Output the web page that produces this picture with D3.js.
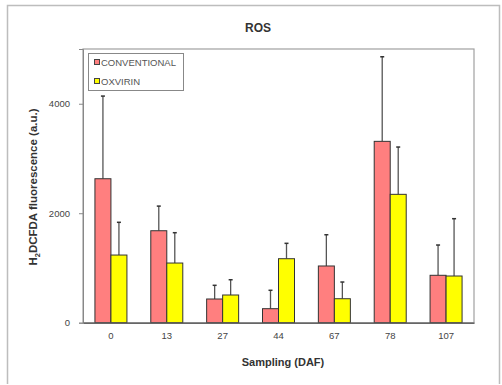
<!DOCTYPE html>
<html><head><meta charset="utf-8">
<script src="https://cdn.jsdelivr.net/npm/d3@7"></script>
<style>body{margin:0;background:#fff}svg{display:block;font-family:"Liberation Sans",Arial,sans-serif}</style>
</head><body><svg id="c" width="502" height="385"></svg>
<script>
const categories = ["0","13","27","44","67","78","107"];
const seriesNames = ["CONVENTIONAL","OXVIRIN"];
const conventional = [2630,1680,433,256,1036,3313,866];
const conventionalErr = [1510,450,250,336,571,1545,553];
const oxvirin = [1236,1090,506,1169,438,2345,853];
const oxvirinErr = [598,554,279,281,305,864,1047];
const yTicks = [0,2000,4000];
const colors = ["#FF7F7F","#FFFF00"];

const svg = d3.select("#c");
const m = {l:83, t:49, r:474, b:322.7};
// outer frame
svg.append("path").attr("d","M7.5,384 V5.5 H499.5 V384").attr("fill","none").attr("stroke","#bdbdbd").attr("stroke-width",1.5);

const x = d3.scaleBand().domain(categories).range([m.l,m.r]).padding(0);
const y = d3.scaleLinear().domain([0,5000]).range([m.b,m.t]);
const bw = 16;

// plot border
svg.append("rect").attr("x",m.l).attr("y",m.t).attr("width",m.r-m.l).attr("height",m.b-m.t)
  .attr("fill","none").attr("stroke","#a0a0a0").attr("stroke-width",1.2);

const series = [
  {vals:conventional, err:conventionalErr, off:-bw, color:colors[0]},
  {vals:oxvirin, err:oxvirinErr, off:0, color:colors[1]}
];
series.forEach(s=>{
  const g = svg.append("g");
  categories.forEach((c,i)=>{
    const cx = x(c)+x.bandwidth()/2 + s.off;
    const top = y(s.vals[i]+s.err[i]);
    g.append("line").attr("x1",cx+bw/2).attr("x2",cx+bw/2).attr("y1",y(s.vals[i])).attr("y2",top)
      .attr("stroke","#555").attr("stroke-width",1.3);
    g.append("line").attr("x1",cx+bw/2-2).attr("x2",cx+bw/2+2).attr("y1",top).attr("y2",top)
      .attr("stroke","#333").attr("stroke-width",1.5);
    g.append("rect").attr("x",cx).attr("y",y(s.vals[i])).attr("width",bw).attr("height",y(0)-y(s.vals[i]))
      .attr("fill",s.color).attr("stroke","#333").attr("stroke-width",1);
  });
});

// axes
const ya = svg.append("g").attr("transform",`translate(${m.l},0)`)
  .call(d3.axisLeft(y).tickValues(yTicks).tickSize(4).tickPadding(9).tickFormat(d3.format("d")));
ya.select(".domain").attr("stroke","#888");
ya.selectAll(".tick line").attr("stroke","#888");
ya.selectAll("text").attr("font-size",9.5).attr("fill","#444").attr("font-family","Liberation Sans, Arial");

const xa = svg.append("g").attr("transform",`translate(0,${m.b})`)
  .call(d3.axisBottom(x).tickSize(0).tickPadding(10));
xa.select(".domain").attr("stroke","#666").attr("stroke-width",1.5);
xa.selectAll("text").attr("font-size",9.5).attr("fill","#444").attr("font-family","Liberation Sans, Arial");

// title
svg.append("text").attr("x",258).attr("y",32).attr("text-anchor","middle").attr("font-size",12)
  .attr("font-weight","bold").attr("fill","#333").text("ROS");
// x label
svg.append("text").attr("x",283).attr("y",366).attr("text-anchor","middle").attr("font-size",11)
  .attr("font-weight","bold").attr("fill","#333").text("Sampling (DAF)");
// y label
const yl = svg.append("text").attr("transform","translate(37,187) rotate(-90)").attr("text-anchor","middle")
  .attr("font-size",11.5).attr("font-weight","bold").attr("fill","#333");
yl.append("tspan").text("H");
yl.append("tspan").attr("font-size",7.5).attr("dy",3).text("2");
yl.append("tspan").attr("dy",-3).text("DCFDA fluorescence  (a.u.)");

// legend
const lg = svg.append("g");
lg.append("rect").attr("x",88.5).attr("y",53.5).attr("width",95).attr("height",37)
  .attr("fill","#fff").attr("stroke","#888").attr("stroke-width",1);
seriesNames.forEach((n,i)=>{
  const yy = 62.5 + i*19;
  lg.append("rect").attr("x",94.5).attr("y",yy-3).attr("width",5).attr("height",5)
    .attr("fill",colors[i]).attr("stroke","#444").attr("stroke-width",1);
  lg.append("text").attr("x",101).attr("y",yy+3).attr("font-size",9.5).attr("fill","#555").text(n);
});
</script></body></html>
